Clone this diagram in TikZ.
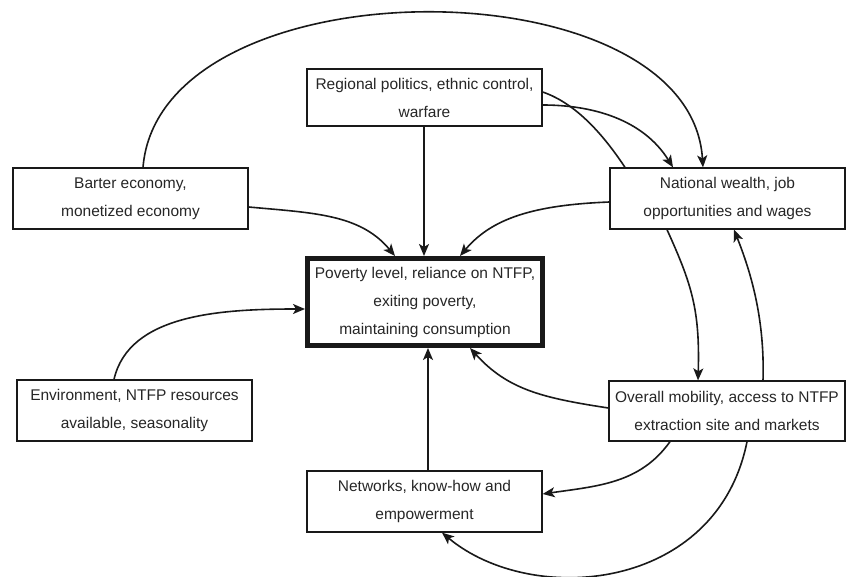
\documentclass[tikz,border=0pt]{standalone}
\usepackage{fontspec}
\setmainfont{Liberation Sans}
\usetikzlibrary{arrows.meta}
\begin{document}
\begin{tikzpicture}[x=1pt,y=-1pt,
  box/.style={draw=black!90, line width=1.3pt, rectangle, minimum width=235pt, minimum height=61pt,
    inner sep=0pt, align=center, text=black!85, font=\fontsize{15.5}{28}\selectfont},
  mainbox/.style={box, line width=5pt, minimum height=87pt},
  conn/.style={line width=1.6pt, black!90},
  arr/.style={conn, -{Stealth[length=12pt,width=10pt,inset=3pt]}}
]
\useasboundingbox (0,0) rectangle (846,577);
\node[box, minimum height=57pt] (reg) at (424.5,97.5) {Regional politics, ethnic control,\\warfare};
\node[box] (bar) at (130.5,198.5) {Barter economy,\\monetized economy};
\node[box] (nat) at (727.5,198.5) {National wealth, job\\opportunities and wages};
\node[mainbox] (pov) at (425,302) {Poverty level, reliance on NTFP,\\exiting poverty,\\maintaining consumption};
\node[box] (env) at (134.5,410.5) {Environment, NTFP resources\\available, seasonality};
\node[box, minimum width=236pt, minimum height=60pt] (mob) at (727,411) {Overall mobility, access to NTFP\\extraction site and markets};
\node[box] (net) at (424.5,501.5) {Networks, know-how and\\empowerment};

% big arc barter -> national
\draw[arr] ([xshift=12.5pt]bar.north) .. controls +(17,-206) and +(-13,-206) .. ([xshift=-24.5pt]nat.north);
% regional -> national
\draw[arr] ([yshift=-7.5pt]reg.east) .. controls +(50,0) and +(-30,-48) .. ([xshift=-54.5pt]nat.north);
\draw[conn] ([yshift=5.5pt]reg.east) .. controls +(35,12) and +(-20,-30) .. ([xshift=-102.5pt]nat.north);
% regional -> poverty
\draw[arr] ([xshift=-0.5pt]reg.south) -- ([xshift=-1pt]pov.north);
% barter -> poverty
\draw[arr] ([yshift=-8.5pt]bar.east) .. controls +(65,6) and +(-35,-42) .. ([xshift=-30pt]pov.north);
% national -> poverty
\draw[arr] ([yshift=-3.5pt]nat.west) .. controls +(-75,3) and +(32,-38) .. ([xshift=35pt]pov.north);
% environment -> poverty
\draw[arr] ([xshift=-20.5pt]env.north) .. controls +(15,-65) and +(-85,0) .. ([yshift=-7pt]pov.west);
% networks -> poverty
\draw[arr] ([xshift=3.5pt]net.north) -- ([xshift=3pt]pov.south);
% mobility -> poverty
\draw[arr] ([yshift=3pt]mob.west) .. controls +(-65,-10) and +(38,42) .. ([xshift=45pt]pov.south);
% national -> mobility
\draw[arr] ([xshift=-60.5pt]nat.south) .. controls +(25,55) and +(2,-70) .. ([xshift=-29pt]mob.north);
% mobility -> national
\draw[arr] ([xshift=36pt]mob.north) .. controls +(2,-65) and +(15,38) .. ([xshift=6.5pt]nat.south);
% mobility -> networks
\draw[arr] ([xshift=-57pt]mob.south) .. controls +(-30,42) and +(55,-8) .. ([yshift=7.5pt]net.east);
% mobility -> networks (bottom)
\draw[arr] ([xshift=20pt]mob.south) .. controls +(-30,150) and +(90,75) .. ([xshift=17.5pt]net.south);
\end{tikzpicture}
\end{document}
